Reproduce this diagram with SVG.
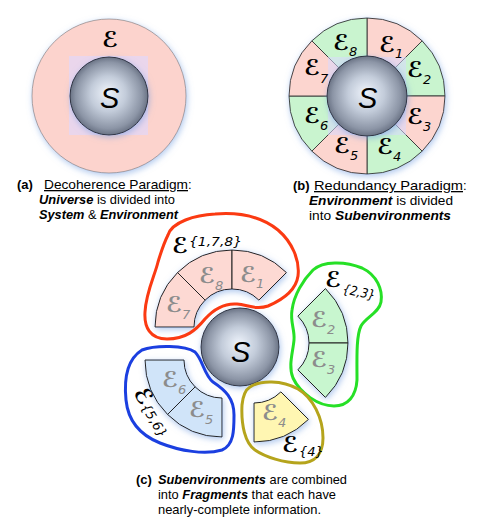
<svg xmlns="http://www.w3.org/2000/svg" width="485" height="527" viewBox="0 0 485 527">
<defs>
<filter id="glow" x="-25%" y="-25%" width="150%" height="150%">
<feGaussianBlur in="SourceAlpha" stdDeviation="3" result="b"/>
<feOffset dx="1" dy="2" in="b" result="o"/>
<feFlood flood-color="#6d9ae0" flood-opacity="0.55"/>
<feComposite in2="o" operator="in" result="s"/>
<feMerge><feMergeNode in="s"/><feMergeNode in="SourceGraphic"/></feMerge>
</filter>
<radialGradient id="sph" cx="0.5" cy="0.5" r="0.5" fx="0.48" fy="0.45">
<stop offset="0" stop-color="#eef3fb"/>
<stop offset="0.45" stop-color="#c3ccda"/>
<stop offset="0.85" stop-color="#8c95a6"/>
<stop offset="1" stop-color="#6a7385"/>
</radialGradient>
<style>
.sphere{fill:url(#sph);stroke:#2f3340;stroke-width:1}
.pink{fill:#fcd5cf;stroke:#333;stroke-width:0.9}
.green{fill:#c9f4cf;stroke:#333;stroke-width:0.9}
.yellow{fill:#fff6b2;stroke:#222;stroke-width:1}
.blue{fill:#d0e4f9;stroke:#222;stroke-width:1}
.fpink{fill:#fdd9d3;stroke:#222;stroke-width:1}
.fgreen{fill:#c8f6cf;stroke:#222;stroke-width:1}
.ov{fill:#d8d8ff;opacity:0.55}
.S{font-family:"Liberation Sans",Arial,sans-serif;font-style:italic;font-size:29px;fill:#000}
.E{font-family:"DejaVu Sans",sans-serif;font-weight:bold;font-size:22px;fill:#000}
.Eg{font-family:"DejaVu Sans",sans-serif;font-weight:bold;font-size:22px;fill:#8c8c8c}
.sub{font-family:"DejaVu Sans",sans-serif;font-weight:normal;font-size:13px;font-style:italic}
.lab{font-family:"DejaVu Sans",sans-serif;font-size:13px;font-style:italic;fill:#000}
.cap{font-family:"Liberation Sans",Arial,sans-serif;font-size:13px;fill:#000}
.b{font-weight:bold}
.bi{font-weight:bold;font-style:italic}
.u{text-decoration:underline}
.blob{fill:none;stroke-width:3;stroke-linejoin:round}
</style>
</defs>

<g id="panel-a">
<g id="environment-a" filter="url(#glow)">
<circle cx="109" cy="96" r="77" fill="#fcd3cd" stroke="#777" stroke-width="0.6"/>
</g>
<rect x="69" y="56" width="79" height="79" fill="#ead6ec"/>
<g id="system-a" filter="url(#glow)">
<circle class="sphere" cx="109" cy="96" r="39"/>
</g>
<text class="E" x="102" y="47">ℰ</text>
<text class="S" x="100" y="108">S</text>
<g id="caption-a">
<text class="cap b" x="17" y="189">(a)</text>
<text class="cap u" x="44" y="189" textLength="144" lengthAdjust="spacingAndGlyphs">Decoherence Paradigm</text>
<text class="cap" x="188" y="189">:</text>
<text class="cap" x="39" y="204" textLength="136" lengthAdjust="spacingAndGlyphs"><tspan class="bi">Universe</tspan> is divided into</text>
<text class="cap" x="39" y="219" textLength="139" lengthAdjust="spacingAndGlyphs"><tspan class="bi">System</tspan> &amp; <tspan class="bi">Environment</tspan></text>
</g>
</g>

<g id="panel-b">
<g id="ring-b" filter="url(#glow)">
<path class="pink" d="M367,18 A78,78 0 0 1 422.15,40.85 L394.58,68.42 A39,39 0 0 0 367,57 Z"/>
<path class="green" d="M422.15,40.85 A78,78 0 0 1 445,96 L406,96 A39,39 0 0 0 394.58,68.42 Z"/>
<path class="pink" d="M445,96 A78,78 0 0 1 422.15,151.15 L394.58,123.58 A39,39 0 0 0 406,96 Z"/>
<path class="green" d="M422.15,151.15 A78,78 0 0 1 367,174 L367,135 A39,39 0 0 0 394.58,123.58 Z"/>
<path class="pink" d="M367,174 A78,78 0 0 1 311.85,151.15 L339.42,123.58 A39,39 0 0 0 367,135 Z"/>
<path class="green" d="M311.85,151.15 A78,78 0 0 1 289,96 L328,96 A39,39 0 0 0 339.42,123.58 Z"/>
<path class="pink" d="M289,96 A78,78 0 0 1 311.85,40.85 L339.42,68.42 A39,39 0 0 0 328,96 Z"/>
<path class="green" d="M311.85,40.85 A78,78 0 0 1 367,18 L367,57 A39,39 0 0 0 339.42,68.42 Z"/>
</g>
<rect class="ov" x="328" y="57" width="78" height="78"/>
<g id="system-b" filter="url(#glow)">
<circle class="sphere" cx="367" cy="96" r="40"/>
</g>
<text class="S" x="358" y="108">S</text>
<g id="labels-b">
<text class="E" x="333" y="50">ℰ<tspan class="sub" dx="0" dy="6">8</tspan></text>
<text class="E" x="379" y="52">ℰ<tspan class="sub" dx="0" dy="6">1</tspan></text>
<text class="E" x="407" y="77">ℰ<tspan class="sub" dx="0" dy="7">2</tspan></text>
<text class="E" x="407" y="124">ℰ<tspan class="sub" dx="0" dy="7">3</tspan></text>
<text class="E" x="377" y="154">ℰ<tspan class="sub" dx="0" dy="7">4</tspan></text>
<text class="E" x="334" y="153">ℰ<tspan class="sub" dx="0" dy="7">5</tspan></text>
<text class="E" x="304" y="123">ℰ<tspan class="sub" dx="0" dy="7">6</tspan></text>
<text class="E" x="304" y="75">ℰ<tspan class="sub" dx="0" dy="8">7</tspan></text>
</g>
<g id="caption-b">
<text class="cap b" x="293" y="190">(b)</text>
<text class="cap u" x="314" y="190" textLength="149" lengthAdjust="spacingAndGlyphs">Redundancy Paradigm</text>
<text class="cap" x="463" y="190">:</text>
<text class="cap" x="309" y="205" textLength="144" lengthAdjust="spacingAndGlyphs"><tspan class="bi">Environment</tspan> is divided</text>
<text class="cap" x="309" y="220" textLength="142" lengthAdjust="spacingAndGlyphs">into <tspan class="bi">Subenvironments</tspan></text>
</g>
</g>

<g id="panel-c">
<g id="system-c" filter="url(#glow)">
<circle class="sphere" cx="240" cy="347" r="39"/>
</g>
<text class="S" x="231" y="362">S</text>

<g id="fragment-178">
<g filter="url(#glow)">
<path class="fpink" d="M155,327 A77,77 0 0 1 177.55,272.55 L205.13,300.13 A38,38 0 0 0 194,327 Z"/>
<path class="fpink" d="M177.55,272.55 A77,77 0 0 1 232,250 L232,289 A38,38 0 0 0 205.13,300.13 Z"/>
<path class="fpink" d="M232,250 A77,77 0 0 1 286.45,272.55 L258.87,300.13 A38,38 0 0 0 232,289 Z"/>
</g>
<text class="Eg" x="199" y="283">ℰ<tspan class="sub" dx="0" dy="7">8</tspan></text>
<text class="Eg" x="240" y="282">ℰ<tspan class="sub" dx="0" dy="6">1</tspan></text>
<text class="Eg" x="166" y="312">ℰ<tspan class="sub" dx="0" dy="7">7</tspan></text>
<path class="blob" stroke="#fb3a12" d="M168,235 C172,222 195,215 215,214 C240,212 262,217 278,230 C292,242 300,260 298,276 C296,290 282,300 268,306 C256,310 248,305 237,304 C224,303 213,310 205,319 C196,330 186,339 167,339 C150,339 144,327 145,312 C146,292 155,275 158,262 C161,252 164,243 168,235 Z"/>
<text class="E" x="172" y="253">ℰ</text>
<text class="lab" x="189" y="246" textLength="53" lengthAdjust="spacingAndGlyphs">{1,7,8}</text>
</g>

<g id="fragment-23">
<g filter="url(#glow)">
<path class="fgreen" d="M325.45,288.55 A77,77 0 0 1 348,343 L309,343 A38,38 0 0 0 297.87,316.13 Z"/>
<path class="fgreen" d="M348,343 A77,77 0 0 1 325.45,397.45 L297.87,369.87 A38,38 0 0 0 309,343 Z"/>
</g>
<text class="Eg" x="311" y="327">ℰ<tspan class="sub" dx="0" dy="7">2</tspan></text>
<text class="Eg" x="311" y="367">ℰ<tspan class="sub" dx="0" dy="7">3</tspan></text>
<path class="blob" stroke="#26e026" d="M313,270 C323,261 345,261 362,268 C377,275 383,290 381,302 C379,313 366,317 361,326 C356,336 357,360 357,380 C356,396 348,406 334,406 C318,406 300,393 293,378 C288,366 293,352 294,340 C295,330 290,322 292,310 C294,295 303,280 313,270 Z"/>
<text class="E" x="325" y="287">ℰ</text>
<text class="lab" transform="translate(342,293) rotate(12)" textLength="33" lengthAdjust="spacingAndGlyphs">{2,3}</text>
</g>

<g id="fragment-4">
<g filter="url(#glow)">
<path class="yellow" d="M308.45,419.45 A77,77 0 0 1 254,442 L254,403 A38,38 0 0 0 280.87,391.87 Z"/>
</g>
<text class="Eg" x="262" y="420">ℰ<tspan class="sub" dx="0" dy="7">4</tspan></text>
<path class="blob" stroke="#b5a41c" d="M250,387 C260,380 282,380 298,389 C313,398 323,418 323,438 C323,455 314,463 300,463 C284,463 265,457 255,450 C245,443 241,425 242,405 C243,395 245,390 250,387 Z"/>
<text class="E" x="282" y="452">ℰ</text>
<text class="lab" x="299" y="456">{4}</text>
</g>

<g id="fragment-56">
<g filter="url(#glow)">
<path class="blue" d="M222,437 A77,77 0 0 1 167.55,414.45 L195.13,386.87 A38,38 0 0 0 222,398 Z"/>
<path class="blue" d="M167.55,414.45 A77,77 0 0 1 145,360 L184,360 A38,38 0 0 0 195.13,386.87 Z"/>
</g>
<text class="Eg" x="162" y="387">ℰ<tspan class="sub" dx="0" dy="7">6</tspan></text>
<text class="Eg" x="189" y="417">ℰ<tspan class="sub" dx="0" dy="7">5</tspan></text>
<path class="blob" stroke="#1b3fe0" d="M142,350 C155,345 185,345 195,352 C203,360 204,375 213,382 C225,390 234,398 234,415 C234,430 234,445 222,450 C205,455 180,451 160,443 C140,435 128,420 126,400 C124,380 126,360 142,350 Z"/>
<g transform="translate(133,393) rotate(58)">
<text class="E" x="0" y="0">ℰ</text>
<text class="lab" x="16" y="1">{5,6}</text>
</g>
</g>

<g id="caption-c">
<text class="cap b" x="136" y="484">(c)</text>
<text class="cap" x="158" y="484" textLength="189" lengthAdjust="spacingAndGlyphs"><tspan class="bi">Subenvironments</tspan> are combined</text>
<text class="cap" x="158" y="499" textLength="178" lengthAdjust="spacingAndGlyphs">into <tspan class="bi">Fragments</tspan> that each have</text>
<text class="cap" x="158" y="514" textLength="163" lengthAdjust="spacingAndGlyphs">nearly-complete information.</text>
</g>
</g>
<g id="connectors"/>
</svg>
